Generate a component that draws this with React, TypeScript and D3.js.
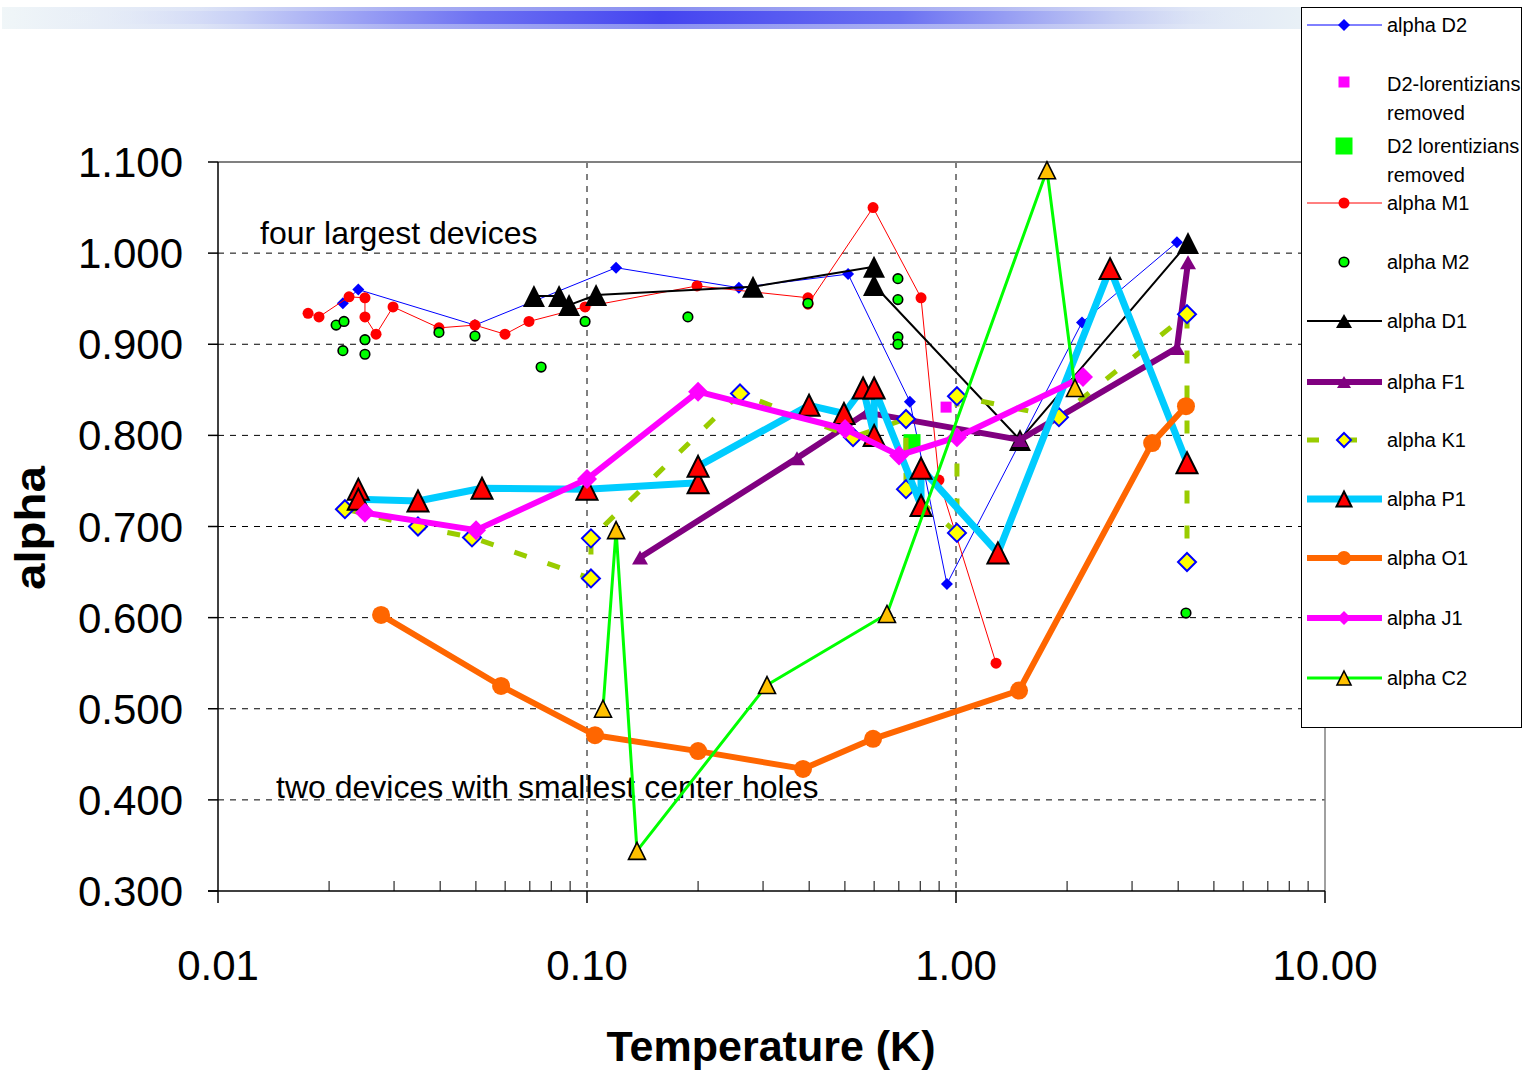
import React from "react";
import * as d3 from "d3";

// ---------- data ----------
const yTicks = [0.3, 0.4, 0.5, 0.6, 0.7, 0.8, 0.9, 1.0, 1.1];
const xTicks = [0.01, 0.1, 1, 10];

const d2X = [0.0218, 0.024, 0.0497, 0.1199, 0.258, 0.51, 0.75, 0.945, 2.195, 3.97];
const d2Y = [0.945, 0.96, 0.921, 0.984, 0.962, 0.977, 0.837, 0.637, 0.924, 1.012];

const d2LorMagX = [0.94];
const d2LorMagY = [0.831];

const d2LorGreenX = [0.76];
const d2LorGreenY = [0.792];

const m1X = [0.01754, 0.01878, 0.02265, 0.02502, 0.02502, 0.02681, 0.02981, 0.0397, 0.0497, 0.05995, 0.06962, 0.0988, 0.1987, 0.397, 0.397, 0.596, 0.804, 0.899, 1.284];
const m1Y = [0.934, 0.93, 0.952, 0.951, 0.93, 0.911, 0.941, 0.918, 0.921, 0.911, 0.925, 0.941, 0.964, 0.951, 0.944, 1.05, 0.951, 0.751, 0.55];

const m2X = [0.0209, 0.02195, 0.0218, 0.02502, 0.02502, 0.0397, 0.0497, 0.0751, 0.0988, 0.1877, 0.397, 0.696, 0.696, 0.696, 0.696, 4.2];
const m2Y = [0.921, 0.925, 0.893, 0.905, 0.889, 0.913, 0.909, 0.875, 0.925, 0.93, 0.945, 0.972, 0.949, 0.908, 0.9, 0.605];

const d1X = [0.0718, 0.084, 0.0894, 0.1058, 0.2818, 0.5995, 0.5995, 1.491, 4.254];
const d1Y = [0.953, 0.953, 0.943, 0.954, 0.963, 0.985, 0.965, 0.795, 1.011];

const f1X = [0.1392, 0.3708, 0.574, 1.491, 3.97, 4.254];
const f1Y = [0.666, 0.775, 0.825, 0.795, 0.896, 0.99];

const k1X = [0.02208, 0.03483, 0.04879, 0.1025, 0.1025, 0.2598, 0.526, 0.732, 0.732, 1.006, 1.006, 1.901, 4.227, 4.227];
const k1Y = [0.719, 0.7, 0.688, 0.643, 0.687, 0.846, 0.798, 0.818, 0.741, 0.693, 0.843, 0.82, 0.933, 0.661];

const p1X = [0.024, 0.024, 0.03483, 0.05193, 0.1, 0.2, 0.2, 0.3997, 0.497, 0.56, 0.6, 0.6, 0.804, 0.804, 1.299, 2.615, 4.227];
const p1Y = [0.741, 0.73, 0.728, 0.742, 0.741, 0.748, 0.766, 0.833, 0.824, 0.852, 0.8, 0.852, 0.723, 0.764, 0.671, 0.983, 0.77];

const o1X = [0.02766, 0.0585, 0.1051, 0.2, 0.385, 0.596, 1.482, 3.4, 4.2];
const o1Y = [0.603, 0.525, 0.471, 0.4535, 0.434, 0.467, 0.52, 0.7915, 0.832];

const j1X = [0.02502, 0.05005, 0.1, 0.2, 0.5005, 0.701, 1.006, 2.209];
const j1Y = [0.715, 0.696, 0.752, 0.848, 0.807, 0.778, 0.798, 0.864];

const c2X = [0.1105, 0.1199, 0.1366, 0.3075, 0.65, 1.764, 2.101];
const c2Y = [0.5, 0.696, 0.344, 0.526, 0.604, 1.091, 0.852];

const legendNames = [
  "alpha D2",
  "D2-lorentizians|removed",
  "D2 lorentizians|removed",
  "alpha M1",
  "alpha M2",
  "alpha D1",
  "alpha F1",
  "alpha K1",
  "alpha P1",
  "alpha O1",
  "alpha J1",
  "alpha C2",
];

// ---------- layout ----------
const W = 1523;
const H = 1070;
const PL = 218, PR = 1325, PT = 162, PB = 891;
const FONT = "'Liberation Sans', Arial, Helvetica, sans-serif";

const x = d3.scaleLog().domain([0.01, 10]).range([PL, PR]);
const y = d3.scaleLinear().domain([0.3, 1.1]).range([PB, PT]);

type MarkerKind = "diamond" | "circle" | "triangle" | "square" | "none";
type Marker = { kind: MarkerKind; size: number; h?: number; fill: string; stroke?: string; sw?: number };

function markerPath(m: Marker, cx: number, cy: number, key: string | number) {
  const s = m.size;
  const common = { fill: m.fill, stroke: m.stroke || "none", strokeWidth: m.sw || 0 };
  if (m.kind === "circle") return <circle key={key} cx={cx} cy={cy} r={s} {...common} />;
  if (m.kind === "square") return <rect key={key} x={cx - s / 2} y={cy - s / 2} width={s} height={s} {...common} />;
  if (m.kind === "diamond")
    return <path key={key} d={`M${cx},${cy - s}L${cx + s},${cy}L${cx},${cy + s}L${cx - s},${cy}Z`} {...common} />;
  if (m.kind === "triangle") {
    const h = m.h || s;
    return <path key={key} d={`M${cx},${cy - h / 2}L${cx + s / 2},${cy + h / 2}L${cx - s / 2},${cy + h / 2}Z`} {...common} strokeLinejoin="miter" />;
  }
  return null;
}

type Series = {
  xs: number[];
  ys: number[];
  line?: { color: string; width: number; dash?: string };
  marker: Marker;
  legendMarker: Marker;
};

const series: Series[] = [
  { xs: d2X, ys: d2Y, line: { color: "#0000FF", width: 1 }, marker: { kind: "diamond", size: 6, fill: "#0000FF" }, legendMarker: { kind: "diamond", size: 6, fill: "#0000FF" } },
  { xs: d2LorMagX, ys: d2LorMagY, marker: { kind: "square", size: 11, fill: "#FF00FF" }, legendMarker: { kind: "square", size: 11, fill: "#FF00FF" } },
  { xs: d2LorGreenX, ys: d2LorGreenY, marker: { kind: "square", size: 17, fill: "#00FF00" }, legendMarker: { kind: "square", size: 17, fill: "#00FF00" } },
  { xs: m1X, ys: m1Y, line: { color: "#FF0000", width: 1 }, marker: { kind: "circle", size: 5.5, fill: "#FF0000" }, legendMarker: { kind: "circle", size: 5.5, fill: "#FF0000" } },
  { xs: m2X, ys: m2Y, marker: { kind: "circle", size: 4.8, fill: "#00FF00", stroke: "#000", sw: 1.6 }, legendMarker: { kind: "circle", size: 4.8, fill: "#00FF00", stroke: "#000", sw: 1.6 } },
  { xs: d1X, ys: d1Y, line: { color: "#000000", width: 2 }, marker: { kind: "triangle", size: 22, h: 22, fill: "#000000" }, legendMarker: { kind: "triangle", size: 16, h: 14, fill: "#000000" } },
  { xs: f1X, ys: f1Y, line: { color: "#800080", width: 6 }, marker: { kind: "triangle", size: 16, h: 14, fill: "#800080" }, legendMarker: { kind: "triangle", size: 14, h: 12, fill: "#800080" } },
  { xs: k1X, ys: k1Y, line: { color: "#99CC00", width: 5, dash: "13,22" }, marker: { kind: "diamond", size: 9, fill: "#FFFF00", stroke: "#0000FF", sw: 2 }, legendMarker: { kind: "diamond", size: 7, fill: "#FFFF00", stroke: "#0000FF", sw: 2 } },
  { xs: p1X, ys: p1Y, line: { color: "#00CCFF", width: 7 }, marker: { kind: "triangle", size: 21, h: 21, fill: "#FF0000", stroke: "#000", sw: 2 }, legendMarker: { kind: "triangle", size: 15, h: 15, fill: "#FF0000", stroke: "#000", sw: 2 } },
  { xs: o1X, ys: o1Y, line: { color: "#FF6600", width: 6 }, marker: { kind: "circle", size: 9, fill: "#FF6600" }, legendMarker: { kind: "circle", size: 7, fill: "#FF6600" } },
  { xs: j1X, ys: j1Y, line: { color: "#FF00FF", width: 6 }, marker: { kind: "diamond", size: 10, fill: "#FF00FF" }, legendMarker: { kind: "diamond", size: 7, fill: "#FF00FF" } },
  { xs: c2X, ys: c2Y, line: { color: "#00FF00", width: 3 }, marker: { kind: "triangle", size: 17, h: 17, fill: "#FFC000", stroke: "#000", sw: 1.6 }, legendMarker: { kind: "triangle", size: 14, h: 14, fill: "#FFC000", stroke: "#000", sw: 1.6 } },
];

// legend rows: text centre and marker centre
const legendRowY = [25, 98, 160, 203, 262, 321, 382, 440, 499, 558, 618, 678];
const legendMarkY = [25, 82, 146, 203, 262, 321, 382, 440, 499, 558, 618, 678];

export default function App() {
  const lineGen = d3
    .line<[number, number]>()
    .x((d) => x(d[0]))
    .y((d) => y(d[1]));

  const fmtY = d3.format(".3f");
  const fmtX = d3.format(".2f");

  const minorTicks: number[] = [];
  [0.01, 0.1, 1].forEach((dec) => {
    for (let k = 2; k <= 9; k++) minorTicks.push(dec * k);
  });

  return (
    <svg width={W} height={H} style={{ position: "absolute", left: 0, top: 0, background: "#fff" }} fontFamily={FONT}>
      <defs>
        <linearGradient id="bandOuter" x1="0" x2="1" y1="0" y2="0">
          <stop offset="0" stopColor="#f0f6f8" />
          <stop offset="0.15" stopColor="#dde4f6" />
          <stop offset="0.3" stopColor="#aab0f2" />
          <stop offset="0.5" stopColor="#8a90f0" />
          <stop offset="0.75" stopColor="#b4baf2" />
          <stop offset="0.9" stopColor="#dfe6f6" />
          <stop offset="1" stopColor="#eaf2f6" />
        </linearGradient>
        <linearGradient id="bandInner" x1="0" x2="1" y1="0" y2="0">
          <stop offset="0" stopColor="#f0f6f8" stopOpacity="0" />
          <stop offset="0.15" stopColor="#c8d0f6" />
          <stop offset="0.35" stopColor="#6c70f2" />
          <stop offset="0.5" stopColor="#4444f0" />
          <stop offset="0.7" stopColor="#6a70f2" />
          <stop offset="0.88" stopColor="#c4ccf4" />
          <stop offset="1" stopColor="#eaf2f6" stopOpacity="0" />
        </linearGradient>
      </defs>

      {/* banner */}
      <rect x={2} y={7} width={1320} height={22} fill="url(#bandOuter)" />
      <rect x={60} y={11} width={1200} height={13} fill="url(#bandInner)" />

      {/* gridlines */}
      {yTicks.filter((t) => t > 0.3 && t < 1.1).map((t) => (
        <line key={"gy" + t} x1={PL} x2={PR} y1={y(t)} y2={y(t)} stroke="#000" strokeWidth={1} strokeDasharray="6,6" />
      ))}
      {[0.1, 1].map((t) => (
        <line key={"gx" + t} x1={x(t)} x2={x(t)} y1={PT} y2={PB} stroke="#000" strokeWidth={1} strokeDasharray="6,6" />
      ))}
      <line x1={PL} x2={PR} y1={PT} y2={PT} stroke="#808080" strokeWidth={2} />
      <line x1={PR} x2={PR} y1={PT} y2={PB} stroke="#808080" strokeWidth={1.5} />

      {/* axes */}
      <line x1={PL} x2={PL} y1={PT} y2={PB} stroke="#000" strokeWidth={1.5} />
      <line x1={PL - 10} x2={PR} y1={PB} y2={PB} stroke="#000" strokeWidth={1.5} />
      {yTicks.map((t) => (
        <line key={"ty" + t} x1={PL - 10} x2={PL} y1={y(t)} y2={y(t)} stroke="#000" strokeWidth={1.5} />
      ))}
      {xTicks.map((t) => (
        <line key={"tx" + t} x1={x(t)} x2={x(t)} y1={PB} y2={PB + 12} stroke="#000" strokeWidth={1.5} />
      ))}
      {minorTicks.map((t, i) => (
        <line key={"mx" + i} x1={x(t)} x2={x(t)} y1={PB - 10} y2={PB} stroke="#000" strokeWidth={1} />
      ))}

      {/* tick labels */}
      {yTicks.map((t) => (
        <text key={"ly" + t} x={183} y={y(t) + 15} textAnchor="end" fontSize={42} fill="#000">
          {fmtY(t)}
        </text>
      ))}
      {xTicks.map((t) => (
        <text key={"lx" + t} x={x(t)} y={980} textAnchor="middle" fontSize={42} fill="#000">
          {fmtX(t)}
        </text>
      ))}

      {/* axis titles */}
      <text x={771} y={1061} textAnchor="middle" fontSize={43} fontWeight="bold" fill="#000">
        Temperature (K)
      </text>
      <text
        transform="translate(45,528) rotate(-90)"
        textAnchor="middle"
        fontSize={42}
        fontWeight="bold"
        fill="#000"
        textLength={124}
        lengthAdjust="spacingAndGlyphs"
      >
        alpha
      </text>

      {/* annotations */}
      <text x={260} y={244} fontSize={32} fill="#000">four largest devices</text>
      <text x={276} y={798} fontSize={32} fill="#000">two devices with smallest center holes</text>

      {/* series */}
      {series.map((s, si) => {
        const pts: [number, number][] = s.xs.map((v, i) => [v, s.ys[i]]);
        return (
          <g key={"s" + si}>
            {s.line && (
              <path
                d={lineGen(pts) || ""}
                fill="none"
                stroke={s.line.color}
                strokeWidth={s.line.width}
                strokeDasharray={s.line.dash}
                strokeLinejoin="round"
              />
            )}
            {pts.map((p, i) => markerPath(s.marker, x(p[0]), y(p[1]), i))}
          </g>
        );
      })}

      {/* legend */}
      <rect x={1301.5} y={7.5} width={220} height={720} fill="#fff" stroke="#000" strokeWidth={1} />
      {series.map((s, i) => {
        const cy = legendRowY[i];
        const my = legendMarkY[i];
        const lines = legendNames[i].split("|");
        return (
          <g key={"lg" + i}>
            {s.line && (
              <line
                x1={1307}
                x2={1382}
                y1={my}
                y2={my}
                stroke={s.line.color}
                strokeWidth={s.line.width}
                strokeDasharray={s.line.dash ? "12,26" : undefined}
              />
            )}
            {markerPath(s.legendMarker, 1344, my, "m")}
            {lines.length === 1 ? (
              <text x={1387} y={cy + 7} fontSize={20} fill="#000">
                {lines[0]}
              </text>
            ) : (
              <>
                <text x={1387} y={cy - 7} fontSize={20} fill="#000">{lines[0]}</text>
                <text x={1387} y={cy + 22} fontSize={20} fill="#000">{lines[1]}</text>
              </>
            )}
          </g>
        );
      })}
    </svg>
  );
}
